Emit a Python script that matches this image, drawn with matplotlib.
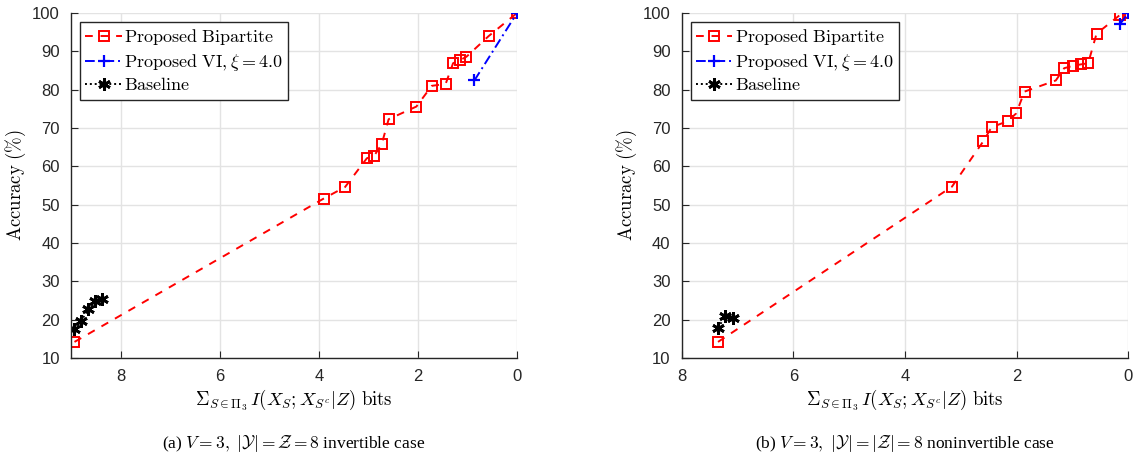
import matplotlib
matplotlib.use('Agg')
import matplotlib.pyplot as plt

plt.rcParams['mathtext.fontset'] = 'cm'
plt.rcParams['font.family'] = 'Liberation Sans'

# (a) invertible case
a_bip_x = [8.93, 3.90, 3.47, 3.03, 2.88, 2.73, 2.59, 2.03, 1.72, 1.44, 1.29, 1.15, 1.02, 0.57, 0.0]
a_bip_y = [14.2, 51.6, 54.6, 62.1, 62.8, 65.8, 72.3, 75.6, 81.0, 81.5, 86.9, 87.7, 88.6, 94.0, 100.0]
a_vi_x = [0.86, 0.0]
a_vi_y = [82.4, 100.0]
a_base_x = [8.93, 8.79, 8.65, 8.51, 8.38]
a_base_y = [17.5, 19.7, 22.8, 24.8, 25.5]

# (b) noninvertible case
b_bip_x = [7.35, 3.16, 2.60, 2.45, 2.16, 2.01, 1.86, 1.30, 1.15, 1.00, 0.85, 0.72, 0.57, 0.15, 0.0]
b_bip_y = [14.2, 54.7, 66.5, 70.2, 71.8, 73.8, 79.5, 82.4, 85.6, 86.2, 86.6, 86.9, 94.6, 99.5, 100.0]
b_vi_x = [0.15, 0.0]
b_vi_y = [97.1, 100.0]
b_base_x = [7.35, 7.22, 7.08]
b_base_y = [17.8, 21.0, 20.4]

xticks = [8, 6, 4, 2, 0]
yticks = [10, 20, 30, 40, 50, 60, 70, 80, 90, 100]

xlabel = r'$\Sigma_{S\in\Pi_3}\, I(X_S;X_{S^c}|Z)\ \mathrm{bits}$'
ylabel = r'$\mathrm{Accuracy\ (\%)}$'
labels = [r'$\mathrm{Proposed\ Bipartite}$',
          r'$\mathrm{Proposed\ VI,}\xi=4.0$',
          r'$\mathrm{Baseline}$']
captions = [r'(a) $V=3,\ |\mathcal{Y}|=\mathcal{Z}=8$ invertible case',
            r'(b) $V=3,\ |\mathcal{Y}|=|\mathcal{Z}|=8$ noninvertible case']

dark = (0.15, 0.15, 0.15)


def draw(ax, bip, vi, base, xmax):
    ax.plot(bip[0], bip[1], color='red', linestyle=(0, (4, 4)), linewidth=1.4,
            marker='s', markersize=7.5, markerfacecolor='none', markeredgewidth=1.4,
            label=labels[0])
    ax.plot(vi[0], vi[1], color='blue', linestyle=(0, (5, 2, 1, 2)), linewidth=1.4,
            marker='+', markersize=9, markeredgewidth=1.6, label=labels[1])
    ax.plot(base[0], base[1], color='black', linestyle=(0, (1, 1.5)), linewidth=1.4,
            marker=(6, 2, 0), markersize=9, markeredgewidth=2.0, label=labels[2])
    ax.set_xlim(xmax, 0)
    ax.set_ylim(10, 100)
    ax.set_xticks(xticks)
    ax.set_yticks(yticks)
    ax.grid(True, color='#e3e3e3', linewidth=1.0)
    ax.set_axisbelow(True)
    for s in ['top', 'right']:
        ax.spines[s].set_visible(False)
    for s in ['left', 'bottom']:
        ax.spines[s].set_color(dark)
        ax.spines[s].set_linewidth(1.0)
    ax.tick_params(direction='in', length=5, colors=dark, labelsize=12, pad=8)
    ax.set_xlabel(xlabel, fontsize=13.5, labelpad=2)
    ax.set_ylabel(ylabel, fontsize=13.5, labelpad=3)
    leg = ax.legend(loc='upper left', fontsize=13, frameon=True, fancybox=False,
                    edgecolor=dark, framealpha=1, borderpad=0.3, labelspacing=0.25,
                    handlelength=2.0, handletextpad=0.15, borderaxespad=0.5)
    leg.get_frame().set_linewidth(1.0)


fig = plt.figure(figsize=(11.4, 4.58), dpi=100)
ax1 = fig.add_axes([0.0623, 0.2183, 0.3912, 0.7533])
ax2 = fig.add_axes([0.598, 0.2183, 0.3918, 0.7533])

draw(ax1, (a_bip_x, a_bip_y), (a_vi_x, a_vi_y), (a_base_x, a_base_y), 9)
draw(ax2, (b_bip_x, b_bip_y), (b_vi_x, b_vi_y), (b_base_x, b_base_y), 8)

fig.text(294 / 1140, 1 - 443 / 458, captions[0], ha='center', va='center',
         fontsize=12.5, family='Liberation Serif')
fig.text(905 / 1140, 1 - 443 / 458, captions[1], ha='center', va='center',
         fontsize=12.5, family='Liberation Serif')

fig.savefig('out.png', dpi=100)
